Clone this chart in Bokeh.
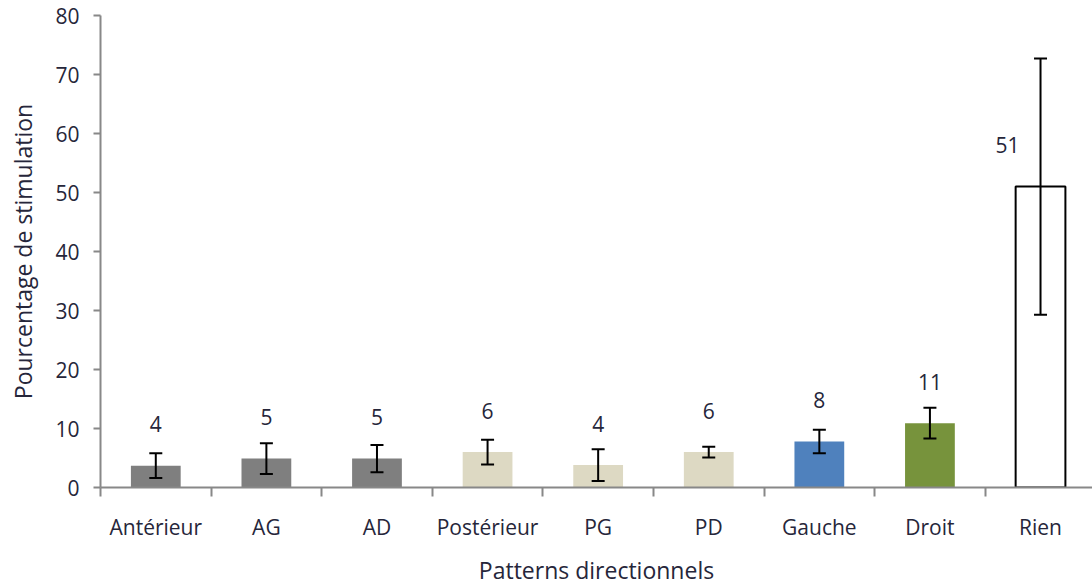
from bokeh.plotting import figure
from bokeh.models import ColumnDataSource, Range1d, FixedTicker, Whisker, TeeHead
from bokeh.core.properties import value
from bokeh.embed import file_html
from bokeh.resources import INLINE

# ---- data ----
categories = ["Antérieur", "AG", "AD", "Postérieur", "PG", "PD", "Gauche", "Droit", "Rien"]
means = [3.7, 4.9, 4.9, 6.0, 3.8, 6.0, 7.8, 10.9, 51.0]
errors = [2.1, 2.6, 2.3, 2.1, 2.7, 0.9, 2.0, 2.6, 21.7]
fill_colors = ["#7f7f7f", "#7f7f7f", "#7f7f7f", "#ddd9c3", "#ddd9c3", "#ddd9c3", "#4f81bd", "#77933c", "#ffffff"]
y_ticks = [0, 10, 20, 30, 40, 50, 60, 70, 80]

FONT = "Open Sans"
TXT = "#26263a"
AX = "#888888"

n = len(categories)
xs = [i + 0.5 for i in range(n)]
src = ColumnDataSource(dict(
    x=xs,
    top=means,
    color=fill_colors,
    line=["#000000" if c == "#ffffff" else c for c in fill_colors],
    lw=[2 if c == "#ffffff" else 0 for c in fill_colors],
    upper=[m + e for m, e in zip(means, errors)],
    lower=[m - e for m, e in zip(means, errors)],
    label=[str(int(round(m))) for m in means],
    label_y=[m + 7 for m in means],
    xoff=[-33 if c == "#ffffff" else 0 for c in fill_colors],
))

p = figure(width=1092, height=588, output_backend="svg", toolbar_location=None,
           x_range=Range1d(0, n - 0.03), y_range=Range1d(0, 80),
           min_border_left=100, min_border_right=0, min_border_top=15, min_border_bottom=100)
p.outline_line_color = None
p.xgrid.visible = False
p.ygrid.visible = False
p.background_fill_color = "white"
p.border_fill_color = "white"

p.vbar(x="x", top="top", width=0.45, bottom=0, source=src, fill_color="color",
       line_color="line", line_width="lw")

w = Whisker(base="x", upper="upper", lower="lower", source=src, line_color="black", line_width=2,
            level="overlay",
            upper_head=TeeHead(size=13, line_color="black", line_width=2),
            lower_head=TeeHead(size=13, line_color="black", line_width=2))
p.add_layout(w)

p.text(x="x", y="label_y", text="label", source=src, x_offset="xoff",
       text_align="center", text_baseline="middle",
       text_font=value(FONT), text_font_size="21px", text_color=TXT)

# x axis
xa = p.xaxis[0]
xa.ticker = FixedTicker(ticks=xs, minor_ticks=list(range(n + 1)))
xa.major_label_overrides = {x: c for x, c in zip(xs, categories)}
xa.major_tick_out = 0
xa.major_tick_in = 0
xa.minor_tick_out = 9
xa.minor_tick_in = 0
xa.minor_tick_line_color = AX
xa.minor_tick_line_width = 2
xa.axis_line_color = AX
xa.axis_line_width = 2
xa.major_label_standoff = 16
xa.major_label_text_font = FONT
xa.major_label_text_font_size = "21px"
xa.major_label_text_color = TXT
xa.axis_label = "Patterns directionnels"
xa.axis_label_text_font = FONT
xa.axis_label_text_font_size = "23px"
xa.axis_label_text_font_style = "normal"
xa.axis_label_text_color = TXT
xa.axis_label_standoff = 10

# y axis
ya = p.yaxis[0]
ya.ticker = FixedTicker(ticks=y_ticks)
ya.minor_tick_line_color = None
ya.major_tick_out = 7
ya.major_tick_in = 0
ya.major_tick_line_color = AX
ya.major_tick_line_width = 2
ya.axis_line_color = AX
ya.axis_line_width = 2
ya.major_label_standoff = 14
ya.major_label_text_font = FONT
ya.major_label_text_font_size = "21px"
ya.major_label_text_color = TXT
ya.axis_label = "Pourcentage de stimulation"
ya.axis_label_text_font = FONT
ya.axis_label_text_font_size = "23px"
ya.axis_label_text_font_style = "normal"
ya.axis_label_text_color = TXT
ya.axis_label_standoff = 13

open("out.html", "w").write(file_html(p, INLINE))
